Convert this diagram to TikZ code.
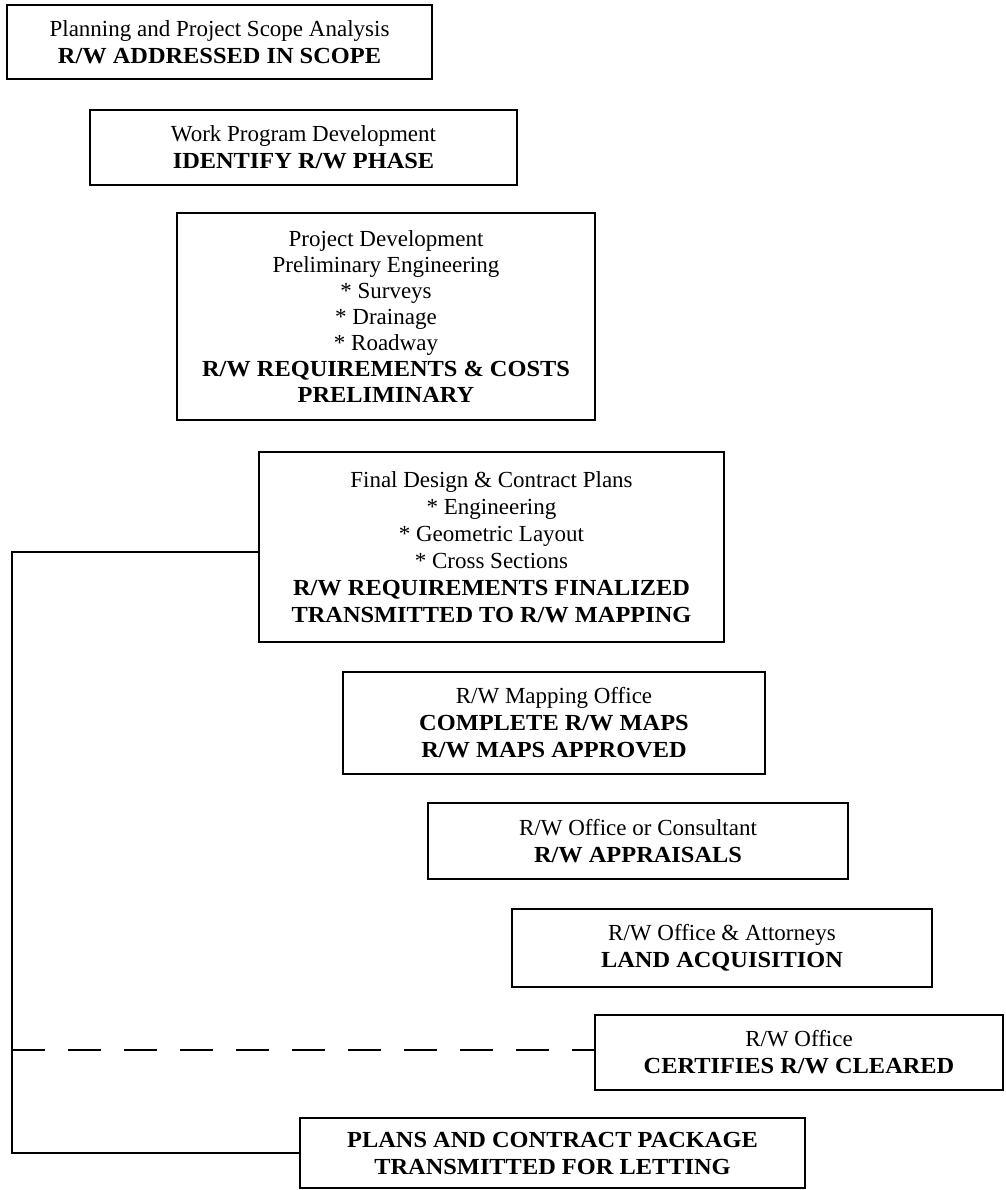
\documentclass[tikz,border=0pt]{standalone}
\usepackage{fontspec}
\setmainfont{Liberation Serif}[BoldFeatures={FakeStretch=1.06}]
\begin{document}
\begin{tikzpicture}[x=1pt,y=-1pt,
  box/.style={draw, line width=1.8pt, inner sep=0pt, align=center,
    font=\fontsize{23}{27}\selectfont},
  link/.style={line width=2pt},
  dashlink/.style={line width=2pt, dash pattern=on 33pt off 23pt}]
\useasboundingbox (0,0) rectangle (1005,1190);
\node[box, minimum width=425pt, minimum height=74pt] (b1) at (219.5,42)
  {Planning and Project Scope Analysis\\ \textbf{R/W ADDRESSED IN SCOPE}};
\node[box, minimum width=427pt, minimum height=75pt] (b2) at (303.5,147.5)
  {Work Program Development\\ \textbf{IDENTIFY R/W PHASE}};
\node[box, minimum width=418pt, minimum height=207pt,
      font=\fontsize{23}{26}\selectfont] (b3) at (386,316.5)
  {Project Development\\ Preliminary Engineering\\ * Surveys\\ * Drainage\\ * Roadway\\
   \textbf{R/W REQUIREMENTS \& COSTS}\\ \textbf{PRELIMINARY}};
\node[box, minimum width=465pt, minimum height=190pt] (b4) at (491.5,547)
  {Final Design \& Contract Plans\\ * Engineering\\ * Geometric Layout\\ * Cross Sections\\
   \textbf{R/W REQUIREMENTS FINALIZED}\\ \textbf{TRANSMITTED TO R/W MAPPING}};
\node[box, minimum width=422pt, minimum height=102pt] (b5) at (554,723)
  {R/W Mapping Office\\ \textbf{COMPLETE R/W MAPS}\\ \textbf{R/W MAPS APPROVED}};
\node[box, minimum width=420pt, minimum height=76pt] (b6) at (638,841)
  {R/W Office or Consultant\\ \textbf{R/W APPRAISALS}};
\node[box, minimum width=420pt, minimum height=78pt] (b7) at (722,948)
  {R/W Office \& Attorneys\\ \textbf{LAND ACQUISITION}};
\node[box, minimum width=408pt, minimum height=75pt] (b8) at (799,1052.5)
  {R/W Office\\ \textbf{CERTIFIES R/W CLEARED}};
\node[box, minimum width=505pt, minimum height=70pt] (b9) at (552.5,1153)
  {\textbf{PLANS AND CONTRACT PACKAGE}\\ \textbf{TRANSMITTED FOR LETTING}};
\coordinate (c1) at (12,552);
\coordinate (c2) at (12,1153);
\coordinate (c3) at (12,1050);
\draw[link] (b4.west |- c1) -- (c1) -- (c2) -- (b9.west |- c2);
\draw[dashlink] (c3) -- (b8.west |- c3);
\end{tikzpicture}
\end{document}
